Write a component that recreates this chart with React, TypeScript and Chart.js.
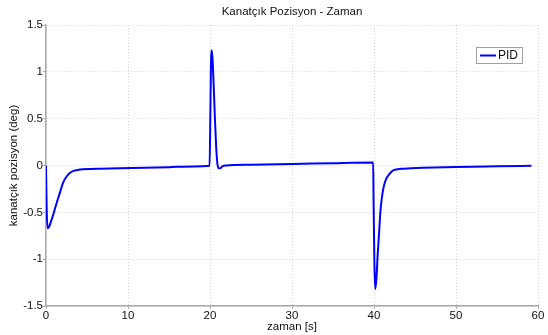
import React, { useEffect, useRef } from "react";
import { Chart, registerables } from "chart.js";

Chart.register(...registerables);

const chartTitle = "Kanatçık Pozisyon - Zaman";
const xTitle = "zaman [s]";
const yTitle = "kanatçık pozisyon (deg)";
const seriesLabel = "PID";

const timeS = [
  0, 0.08, 0.2, 0.35, 0.6, 0.9, 1.3, 1.7, 2.1, 2.5, 2.9, 3.3, 3.75, 4.5, 5.5, 6.6, 9, 12, 15, 18, 19.95,
  20.05, 20.12, 20.18, 20.3, 20.45, 20.6, 20.75, 20.9, 21.05, 21.25, 21.5, 21.9, 25, 30, 35, 39.9,
  39.95, 40.05, 40.15, 40.3, 40.45, 40.6, 40.8, 41.0, 41.2, 41.5, 41.8, 42.1, 42.4, 43.3, 44.5, 46, 50, 55, 59.2,
];
const positionDeg = [
  0, -0.45, -0.67, -0.66, -0.6, -0.52, -0.4, -0.29, -0.18, -0.12, -0.08, -0.06, -0.05, -0.04, -0.037, -0.035, -0.03, -0.025, -0.018, -0.01, -0.003,
  0.6, 1.1, 1.23, 1.15, 0.85, 0.5, 0.2, 0.02, -0.03, -0.03, -0.01, 0.0, 0.008, 0.015, 0.025, 0.032,
  -0.4, -1.05, -1.32, -1.2, -0.95, -0.75, -0.47, -0.32, -0.22, -0.14, -0.1, -0.07, -0.05, -0.035, -0.03, -0.025, -0.015, -0.008, -0.003,
];
const xTickValues = [0, 10, 20, 30, 40, 50, 60];
const yTickValues = [-1.5, -1, -0.5, 0, 0.5, 1, 1.5];

const FONT = "'Liberation Sans', Arial, Helvetica, sans-serif";
const FS = 11.5;

const legendBox = {
  id: "legendBox",
  afterDatasetsDraw(chart: any) {
    const { ctx, chartArea } = chart;
    const ds = chart.data.datasets[0];
    ctx.save();
    ctx.font = `12px ${FONT}`;
    const tw = ctx.measureText(ds.label).width;
    const lineLen = 16;
    const w = Math.round(4 + lineLen + 2 + tw + 4);
    const h = 16;
    const x = Math.round(chartArea.right - 16 - w);
    const y = Math.round(chartArea.top + 22);
    ctx.fillStyle = "#ffffff";
    ctx.fillRect(x, y, w, h);
    ctx.strokeStyle = "#a0a0a0";
    ctx.lineWidth = 1;
    ctx.strokeRect(x + 0.5, y + 0.5, w, h);
    ctx.strokeStyle = ds.borderColor;
    ctx.lineWidth = 2;
    ctx.beginPath();
    ctx.moveTo(x + 4, y + h / 2 + 0.5);
    ctx.lineTo(x + 4 + lineLen, y + h / 2 + 0.5);
    ctx.stroke();
    ctx.fillStyle = "#111";
    ctx.textBaseline = "middle";
    ctx.textAlign = "left";
    ctx.fillText(ds.label, x + 4 + lineLen + 2, y + h / 2 + 1);
    ctx.restore();
  },
};

export default function App() {
  const ref = useRef<HTMLCanvasElement | null>(null);
  useEffect(() => {
    if (!ref.current) return;
    const points = timeS.map((t, i) => ({ x: t, y: positionDeg[i] }));
    const chart = new Chart(ref.current, {
      type: "line",
      data: {
        datasets: [
          {
            label: seriesLabel,
            data: points,
            borderColor: "#0000ff",
            borderWidth: 2,
            pointRadius: 0,
            fill: false,
            cubicInterpolationMode: "monotone",
          },
        ],
      },
      options: {
        animation: false,
        responsive: false,
        layout: { padding: { left: 0, right: 10, top: 0, bottom: 0 } },
        plugins: {
          legend: { display: false },
          tooltip: { enabled: false },
          title: {
            display: true,
            fullSize: false,
            text: chartTitle,
            color: "#111",
            font: { family: FONT, size: FS, weight: "normal" },
            padding: { top: 5, bottom: 6.2 },
          },
        },
        scales: {
          x: {
            type: "linear",
            min: 0,
            max: 60,
            afterFit: (s: any) => {
              s.height = 29;
            },
            afterBuildTicks: (s: any) => {
              s.ticks = xTickValues.map((v) => ({ value: v }));
            },
            ticks: {
              color: "#111",
              font: { family: FONT, size: FS },
              padding: 0,
              maxRotation: 0,
              callback: (v: any) => String(v),
            },
            grid: {
              color: "#d4d4d4",
              lineWidth: 1,
              drawTicks: true,
              tickLength: 3,
              tickColor: "#a8a8a8",
            },
            border: { display: true, color: "#a8a8a8", width: 1.5, dash: [1, 2] },
            title: {
              display: true,
              text: xTitle,
              color: "#111",
              font: { family: FONT, size: FS },
              padding: { top: 0, bottom: 1 },
            },
          },
          y: {
            type: "linear",
            min: -1.5,
            max: 1.5,
            afterFit: (s: any) => {
              s.width = 46;
            },
            afterBuildTicks: (s: any) => {
              s.ticks = yTickValues.map((v) => ({ value: v }));
            },
            ticks: {
              color: "#111",
              font: { family: FONT, size: FS },
              padding: 0,
              callback: (v: any) => String(v),
            },
            grid: {
              color: "#d4d4d4",
              lineWidth: 1,
              drawTicks: true,
              tickLength: 3,
              tickColor: "#a8a8a8",
            },
            border: { display: true, color: "#a8a8a8", width: 1.5, dash: [1, 2] },
            title: {
              display: true,
              text: yTitle,
              color: "#111",
              font: { family: FONT, size: FS },
              padding: { top: 6.5, bottom: 0 },
            },
          },
        },
      },
      plugins: [legendBox],
    } as any);
    return () => chart.destroy();
  }, []);
  return (
    <div style={{ position: "absolute", left: 0, top: 0, width: 548, height: 335, background: "#fff" }}>
      <canvas ref={ref} width={548} height={335} />
    </div>
  );
}
